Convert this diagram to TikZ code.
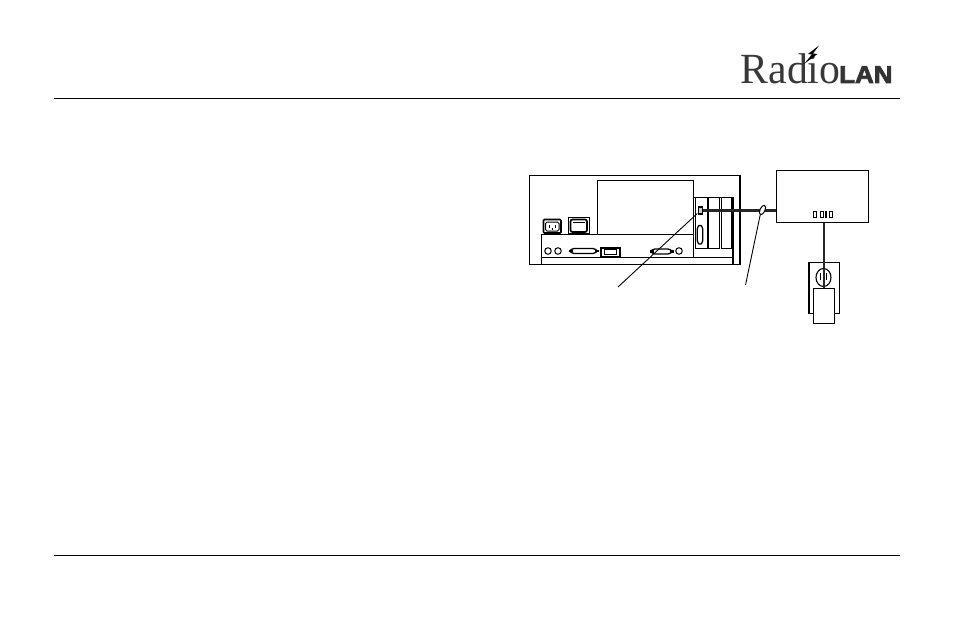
\documentclass[tikz,border=0pt]{standalone}
\usepackage{fontspec}
\setmainfont{Liberation Serif}
\newfontfamily\lansans[FakeBold=3]{Liberation Sans Bold}
\usetikzlibrary{calc,shapes.geometric}
\tikzset{
  x=1pt,y=-1pt,
  rulel/.style={line width=1pt,black},
  thin1/.style={line width=.9pt,black},
  thick1/.style={line width=1.7pt,black},
  cable/.style={line width=2.4pt,black!85},
  leader/.style={line width=.9pt,black},
  rectn/.style={draw=black,line width=1pt,fill=white,inner sep=0pt,outer sep=0pt,minimum width=#1},
  dconn/.style={draw=black,line width=1.3pt,fill=white,rounded corners=1.5pt},
  jack/.style={circle,draw=black,line width=1pt,fill=white,inner sep=0pt,minimum size=6.5pt},
  led/.style={draw=black,line width=.9pt,inner sep=0pt,minimum width=3pt,minimum height=5.5pt},
}
\newcommand{\dsub}[3]{% cx, cy, half length
  \draw[dconn] (#1-#3,#2) -- (#1-#3+3,#2-2.5) -- (#1+#3-3,#2-2.5) -- (#1+#3,#2) -- (#1+#3-3,#2+2.5) -- (#1-#3+3,#2+2.5) -- cycle;
  \fill[black] (#1-#3-1,#2-1.2) rectangle (#1-#3+3,#2+1.2);
  \fill[black] (#1+#3-3,#2-1.2) rectangle (#1+#3+1,#2+1.2);
}
\begin{document}
\begin{tikzpicture}
\useasboundingbox (0,0) rectangle (954,618);
\fill[white] (0,0) rectangle (954,618);
% rules
\coordinate (r1a) at (54,98.5); \coordinate (r1b) at (900,98.5);
\coordinate (r2a) at (54,555); \coordinate (r2b) at (900,555);
\draw[rulel] (r1a) -- (r1b);
\draw[rulel] (r2a) -- (r2b);
% logo
\node[anchor=base west,inner sep=0pt,text=black!78] (radio) at (740.5,83.5) {\fontsize{43}{43}\selectfont\scalebox{.97}[1]{Radio}};
\node[anchor=base west,inner sep=0pt,text=black!80] (lan) at (839,83) {\lansans\fontsize{24.5}{24.5}\selectfont\scalebox{1.06}[1]{LAN}};
\fill[black] (819,45.5) -- (808,54) -- (812,54.5) -- (804,64) -- (817.5,54) -- (813,53.5) -- cycle;
% computer
\draw[thick1] (529.5,264.5) -- (529.5,175.5) -- (740,175.5) -- (740,264.5) -- (733,264.5);
\draw[thick1] (529.5,264.5) -- (733,264.5);
\node[rectn=96pt,minimum height=54pt,anchor=north west] (bay) at (597,180) {};
\draw[thick1] (597,180.5) -- (693,180.5);
\draw[thick1] (541,234.5) -- (693,234.5);
\draw[thin1] (541,234.5) -- (541,264.5);
\draw[thin1] (541,257) -- (733,257);
\draw[thin1] (693.5,197) -- (693.5,257);
\draw[thin1] (693.5,197) -- (733,197);
\draw[thick1] (733,197) -- (733,264.5);
\node[rectn=12pt,minimum height=51pt,anchor=north west] (card1) at (695,197.5) {};
\node[rectn=11.5pt,minimum height=51pt,anchor=north west] (card2) at (708,197.5) {};
\node[rectn=10pt,minimum height=51pt,anchor=north west] (card3) at (721,197.5) {};
% power inlets
\draw[line width=1.7pt,rounded corners=1pt] (543.5,219.5) rectangle (561,233);
\draw[line width=1pt,rounded corners=1.5pt] (545.5,222) rectangle (559,231);
\fill (549,225) rectangle (550,228); \fill (554.5,225) rectangle (555.5,228); \fill (552,228) rectangle (553,230);
\draw[line width=1pt] (568,217.5) rectangle (589.5,233.5);
\draw[line width=1.7pt,rounded corners=2pt] (570.5,219.5) rectangle (587,232);
\draw[line width=.9pt] (573,222) -- (584.5,222);
% rear panel connectors
\node[jack] (j1) at (548,251) {};
\node[jack] (j2) at (558,251) {};
\dsub{583.5}{251}{14}
\draw[line width=2pt,fill=white] (601,247.5) rectangle (619.5,256.5);
\draw[line width=.9pt] (604,249.5) rectangle (616.5,254.5);
\dsub{661.5}{251.5}{11}
\node[jack] (j3) at (679,251) {};
% card connectors
\node[draw=black,line width=1.4pt,fill=black!20,inner sep=0pt,minimum width=4pt,minimum height=7pt] (port) at (700.3,210.5) {};
\draw[dconn] (700,224.5) -- (702.8,227.5) -- (702.8,242) -- (700,245) -- (697.2,242) -- (697.2,227.5) -- cycle;
% transceiver
\node[draw=black,line width=1pt,fill=white,inner sep=0pt,minimum width=92pt,minimum height=52pt,anchor=north west] (modem) at (776,170) {};
\node[led] (l1) at (814.5,214.5) {};
\node[led] (l2) at (821.5,214.5) {};
\node[led,minimum width=1.5pt,fill=black] (l3) at (826,214.5) {};
\node[led] (l4) at (830.5,214.5) {};
% outlet
\draw[line width=1pt,fill=white] (808.5,262.5) rectangle (839,313);
\draw[line width=1.7pt] (809,313) -- (809,262.5) -- (839,262.5);
\node[draw=black,line width=1.1pt,fill=white,ellipse,inner sep=0pt,minimum width=15pt,minimum height=18pt] (socket) at (823.5,277.5) {};
\fill (820,273) rectangle (821.2,280);
\fill (826,273) rectangle (827.2,280);
\node[draw=black,line width=1pt,fill=white,inner sep=0pt,minimum width=21pt,minimum height=35pt,anchor=north west] (plug) at (813,288) {};
% cables
\coordinate (cordtop) at (plug.north |- modem.south);
\draw[cable] (port.east) -- (port.east -| modem.west);
\draw[cable] (cordtop) -- (plug.north);
% cable tag and leaders
\node[draw=black,line width=1pt,fill=white,ellipse,inner sep=0pt,minimum width=5pt,minimum height=10pt,rotate=-25] (tag) at (762.5,210) {};
\coordinate (lead1) at (618,287);
\coordinate (lead2) at (745.5,285);
\draw[leader] ($(port)+(-3,3)$) -- (lead1);
\draw[leader] (tag.south) -- (lead2);
\end{tikzpicture}
\end{document}
